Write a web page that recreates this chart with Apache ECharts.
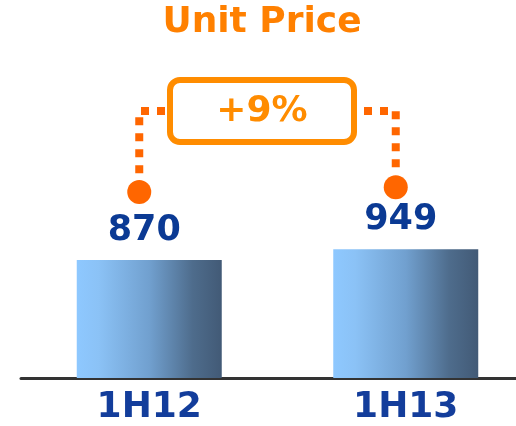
<!DOCTYPE html>
<html>
<head>
<meta charset="utf-8">
<script src="https://cdn.jsdelivr.net/npm/echarts@6/dist/echarts.min.js"></script>
<style>html,body{margin:0;padding:0;background:#fff;}#c{width:516px;height:426px;}</style>
</head>
<body>
<div id="c"></div>
<script>
const titleText = 'Unit Price';
const categories = ['1H12', '1H13'];
const unitPrice = [870, 949];
const changeLabel = '+9%';

const FONT = 'DejaVu Sans';
const chart = echarts.init(document.getElementById('c'), null, {renderer: 'canvas'});

const barGradient = new echarts.graphic.LinearGradient(0, 0, 1, 0, [
  {offset: 0, color: '#8ec8ff'},
  {offset: 0.15, color: '#8bc2f6'},
  {offset: 0.5, color: '#71a0cf'},
  {offset: 0.8, color: '#4e6c8c'},
  {offset: 1, color: '#425a76'}
]);

chart.setOption({
  animation: false,
  grid: {left: 21, width: 513, top: 106.7, bottom: 48, outerBoundsMode: 'none', containLabel: false},
  xAxis: {
    type: 'category',
    data: categories,
    axisLine: {lineStyle: {color: '#333333', width: 3}},
    axisTick: {show: false},
    axisLabel: {color: '#133d9b', fontSize: 36, fontWeight: 'bold', fontFamily: FONT, margin: 12}
  },
  yAxis: {type: 'value', min: 0, max: 2000, show: false, splitLine: {show: false}},
  series: [{
    type: 'bar',
    data: unitPrice,
    barWidth: 145,
    itemStyle: {color: barGradient},
    label: {
      show: true, position: 'top', distance: 12, offset: [-5, 0],
      color: '#0b3a94', fontSize: 35, fontWeight: 'bold', fontFamily: FONT
    }
  }]
});

// annotation: dots above bars, dotted connectors, change box
const tops = categories.map((c, i) => chart.convertToPixel({gridIndex: 0}, [c, unitPrice[i]]));
const dotDy = [-68, -62];
const dots = tops.map((p, i) => [p[0] - 10, p[1] + dotDy[i]]);
const boxCx = 262, boxCy = 111, boxW = 184, boxH = 62;
const orange = '#ff6600';

chart.setOption({
  graphic: [
    {type: 'text', x: 262, y: 23, style: {text: titleText, fill: '#ff8000', font: 'bold 36px "DejaVu Sans"', textAlign: 'center', textVerticalAlign: 'middle'}},
    {type: 'polyline', shape: {points: [[boxCx - boxW / 2 - 5, boxCy], [dots[0][0], boxCy], [dots[0][0], dots[0][1] - 14]]},
      style: {stroke: orange, lineWidth: 8, lineDash: [8, 8], fill: null}},
    {type: 'polyline', shape: {points: [[boxCx + boxW / 2 + 10, boxCy], [dots[1][0], boxCy], [dots[1][0], dots[1][1] - 14]]},
      style: {stroke: orange, lineWidth: 8, lineDash: [8, 8], fill: null}},
    {type: 'circle', shape: {cx: dots[0][0], cy: dots[0][1], r: 12}, style: {fill: orange}},
    {type: 'circle', shape: {cx: dots[1][0], cy: dots[1][1], r: 12}, style: {fill: orange}},
    {type: 'rect', shape: {x: boxCx - boxW / 2, y: boxCy - boxH / 2, width: boxW, height: boxH, r: 10},
      style: {stroke: '#ff8c00', lineWidth: 6, fill: '#ffffff'}},
    {type: 'text', x: boxCx, y: boxCy + 1, style: {text: changeLabel, fill: '#ff8c00', font: 'bold 36px "DejaVu Sans"', textAlign: 'center', textVerticalAlign: 'middle'}}
  ]
});
</script>
</body>
</html>
